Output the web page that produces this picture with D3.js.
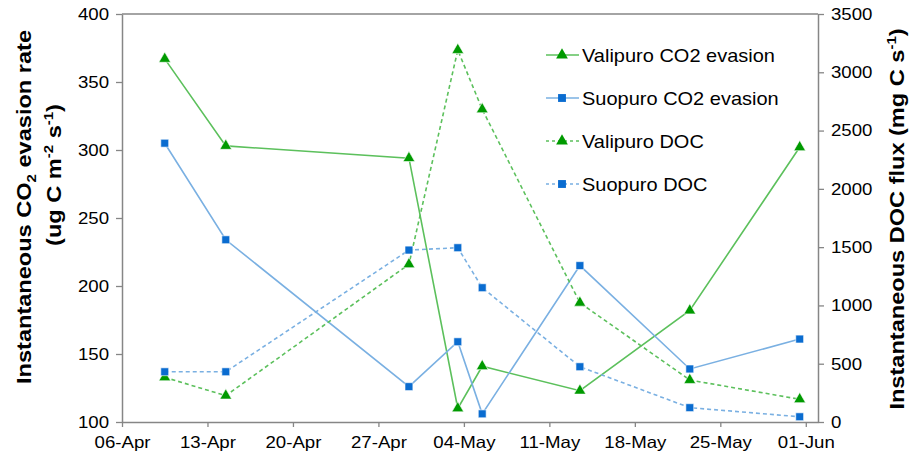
<!DOCTYPE html>
<html>
<head>
<meta charset="utf-8">
<script src="https://cdn.jsdelivr.net/npm/d3@7"></script>
<style>
  body { margin: 0; background: #fff; }
  svg { display: block; }
  text { font-family: "Liberation Sans", Arial, sans-serif; fill: #000; }
</style>
</head>
<body>
<svg id="chart" width="917" height="455"></svg>
<script>
// Sampling times (measurements taken around midday)
const sampleTimes = [
  "2010-04-09T12:00", "2010-04-14T12:00", "2010-04-29T12:00", "2010-05-03T12:00",
  "2010-05-05T12:00", "2010-05-13T12:00", "2010-05-22T12:00", "2010-05-31T12:00"
];
// CO2 evasion rate, ug C m-2 s-1 (left axis)
const valipuroCO2 = [367, 303, 294, 110, 141, 123, 182, 302];
const suopuroCO2  = [305, 234, 126, 159, 106, 215, 139, 161];
// DOC flux, mg C s-1 (right axis)
const valipuroDOC = [383, 226, 1353, 3191, 2682, 1023, 360, 195];
const suopuroDOC  = [431, 431, 1475, 1495, 1152, 474, 123, 45];
// Axis ticks
const co2Ticks = [100, 150, 200, 250, 300, 350, 400];
const docTicks = [0, 500, 1000, 1500, 2000, 2500, 3000, 3500];
const dateTicks = ["2010-04-06", "2010-04-13", "2010-04-20", "2010-04-27", "2010-05-04",
                   "2010-05-11", "2010-05-18", "2010-05-25", "2010-06-01"];
const dateStart = "2010-04-06", dateEnd = "2010-06-02";

const parseTime = d3.timeParse("%Y-%m-%dT%H:%M");
const parseDay = d3.timeParse("%Y-%m-%d");
const times = sampleTimes.map(parseTime);

const svg = d3.select("#chart");
const plotLeft = 122, plotRight = 818, plotTop = 14, plotBottom = 422;

const x = d3.scaleTime().domain([parseDay(dateStart), parseDay(dateEnd)]).range([plotLeft, plotRight]);
const yL = d3.scaleLinear().domain([100, 400]).range([plotBottom, plotTop]);
const yR = d3.scaleLinear().domain([0, 3500]).range([plotBottom, plotTop]);

const axisGrey = "#868686";
const GREEN_LINE = "#5cc05c", GREEN_MARK = "#009a00";
const BLUE_LINE = "#7ab0e2", BLUE_MARK = "#0a6cd0";

const series = [
  { name: "Valipuro CO2 evasion", values: valipuroCO2, y: yL, line: GREEN_LINE, mark: GREEN_MARK, shape: "tri", dash: null },
  { name: "Suopuro CO2 evasion",  values: suopuroCO2,  y: yL, line: BLUE_LINE,  mark: BLUE_MARK,  shape: "sq",  dash: null },
  { name: "Valipuro DOC",         values: valipuroDOC, y: yR, line: GREEN_LINE, mark: GREEN_MARK, shape: "tri", dash: "4,3" },
  { name: "Suopuro DOC",          values: suopuroDOC,  y: yR, line: BLUE_LINE,  mark: BLUE_MARK,  shape: "sq",  dash: "4,3" }
];

const triPath = d3.symbol(d3.symbolTriangle, 60)();
const sqPath = d3.symbol(d3.symbolSquare, 62)();

// Text helper: horizontal stretch in the text's own frame
function label(parent, px, py, str, opts) {
  const o = Object.assign({ size: 16, anchor: "start", weight: "normal", rot: 0, sx: 1.15 }, opts);
  return parent.append("text")
    .attr("transform", `translate(${px},${py}) rotate(${o.rot}) scale(${o.sx},1)`)
    .attr("text-anchor", o.anchor)
    .style("font-size", o.size + "px")
    .style("font-weight", o.weight)
    .text(str);
}

// Axes
const tickSX = 1.13;
function styleAxis(g) {
  g.select(".domain").attr("stroke", axisGrey).attr("stroke-width", 1.5);
  g.selectAll(".tick line").attr("stroke", axisGrey).attr("stroke-width", 1.3);
  g.selectAll(".tick text")
    .style("font-size", "16.5px").attr("fill", "#000")
    .attr("x", function () { return (+d3.select(this).attr("x") || 0) / tickSX; })
    .attr("transform", `scale(${tickSX},1)`);
}

const gx = svg.append("g").attr("transform", `translate(0,${plotBottom})`)
  .call(d3.axisBottom(x).tickValues(dateTicks.map(parseDay)).tickFormat(d3.timeFormat("%d-%b"))
    .tickSizeInner(5).tickSizeOuter(0).tickPadding(6));
styleAxis(gx);
gx.selectAll(".tick text").attr("dy", "0.93em");

const gl = svg.append("g").attr("transform", `translate(${plotLeft},0)`)
  .call(d3.axisLeft(yL).tickValues(co2Ticks).tickFormat(d3.format("d"))
    .tickSizeInner(6).tickSizeOuter(0).tickPadding(7));
styleAxis(gl);

const gr = svg.append("g").attr("transform", `translate(${plotRight},0)`)
  .call(d3.axisRight(yR).tickValues(docTicks).tickFormat(d3.format("d"))
    .tickSizeInner(6).tickSizeOuter(0).tickPadding(7));
styleAxis(gr);

// Top border of plot area
svg.append("line").attr("x1", plotLeft).attr("x2", plotRight).attr("y1", plotTop).attr("y2", plotTop)
  .attr("stroke", axisGrey).attr("stroke-width", 1.5);

// Series lines and markers
const plot = svg.append("g");
series.forEach(s => {
  const line = d3.line().x((d, i) => x(times[i])).y(d => s.y(d));
  plot.append("path").datum(s.values)
    .attr("d", line).attr("fill", "none")
    .attr("stroke", s.line).attr("stroke-width", 1.6)
    .attr("stroke-dasharray", s.dash);
});
series.forEach(s => {
  plot.selectAll(null).data(s.values).enter().append("path")
    .attr("d", s.shape === "tri" ? triPath : sqPath)
    .attr("transform", (d, i) => `translate(${x(times[i])},${s.y(d)})`)
    .attr("fill", s.mark).attr("stroke", "#fff").attr("stroke-width", 0.6);
});

// Legend
const legend = svg.append("g");
series.forEach((s, i) => {
  const cy = 55 + i * 43;
  legend.append("line").attr("x1", 546).attr("x2", 579).attr("y1", cy).attr("y2", cy)
    .attr("stroke", s.line).attr("stroke-width", 1.6).attr("stroke-dasharray", s.dash ? "3,3" : null);
  legend.append("path").attr("d", s.shape === "tri" ? triPath : sqPath)
    .attr("transform", `translate(562,${cy})`).attr("fill", s.mark);
  label(legend, 582, cy + 6.5, s.name, { size: 17.7, sx: 1.13 });
});

// Axis titles
const tl = label(svg, 31, 207, "", { size: 20.5, weight: "bold", anchor: "middle", rot: -90, sx: 1.15 });
tl.append("tspan").text("Instantaneous CO");
tl.append("tspan").text("2").style("font-size", "13px").attr("dy", 5);
tl.append("tspan").text(" evasion rate").attr("dy", -5);

const tl2 = label(svg, 61, 175, "", { size: 20.5, weight: "bold", anchor: "middle", rot: -90, sx: 1.15 });
tl2.append("tspan").text("(ug C m");
tl2.append("tspan").text("-2").style("font-size", "13px").attr("dy", -8);
tl2.append("tspan").text(" s").attr("dy", 8);
tl2.append("tspan").text("-1").style("font-size", "13px").attr("dy", -8);
tl2.append("tspan").text(")").attr("dy", 8);

const tr = label(svg, 904, 219, "", { size: 20.5, weight: "bold", anchor: "middle", rot: -90, sx: 1.15 });
tr.append("tspan").text("Instantaneous DOC flux (mg C s");
tr.append("tspan").text("-1").style("font-size", "13px").attr("dy", -8);
tr.append("tspan").text(")").attr("dy", 8);
</script>
</body>
</html>
